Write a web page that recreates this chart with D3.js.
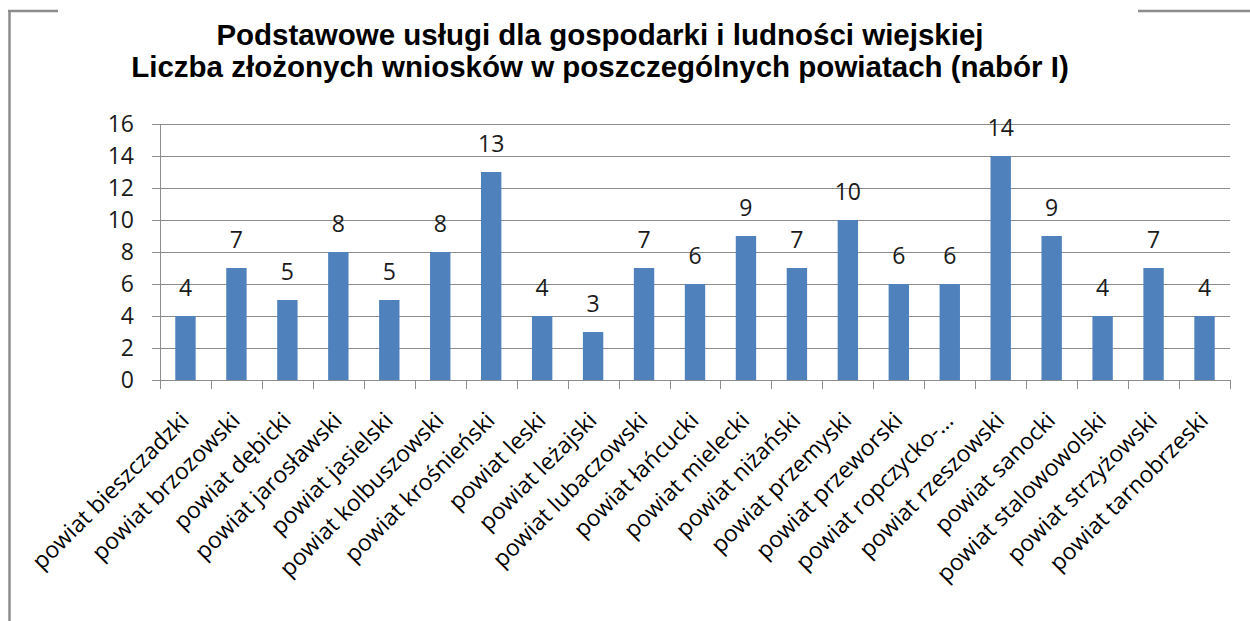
<!DOCTYPE html>
<html>
<head>
<meta charset="utf-8">
<script src="https://cdn.jsdelivr.net/npm/d3@7"></script>
<style>
  body { margin: 0; background: #fff; }
  svg { display: block; }
</style>
</head>
<body>
<svg id="chart"></svg>
<script>
// data
let categories = ["powiat bieszczadzki", "powiat brzozowski", "powiat dębicki", "powiat jarosławski",
    "powiat jasielski", "powiat kolbuszowski", "powiat krośnieński", "powiat leski", "powiat leżajski",
    "powiat lubaczowski", "powiat łańcucki", "powiat mielecki", "powiat niżański", "powiat przemyski",
    "powiat przeworski", "powiat ropczycko-…", "powiat rzeszowski", "powiat sanocki",
    "powiat stalowowolski", "powiat strzyżowski", "powiat tarnobrzeski"]
let values = [4, 7, 5, 8, 5, 8, 13, 4, 3, 7, 6, 9, 7, 10, 6, 6, 14, 9, 4, 7, 4]
let yTicks = [0, 2, 4, 6, 8, 10, 12, 14, 16]
let titleLines = ["Podstawowe usługi dla gospodarki i ludności wiejskiej",
    "Liczba złożonych wniosków w poszczególnych powiatach (nabór I)"]

let width = 1250
let height = 621
let plot = { left: 160, right: 1230, top: 124, bottom: 380 }
let labelFont = "'Open Sans', sans-serif"

let svg = d3.select("#chart")
    .attr("width", width)
    .attr("height", height)

// frame pieces of the chart area
let frameColor = "#8c8c8c"
svg.append("line").attr("x1", 8).attr("x2", 58).attr("y1", 11).attr("y2", 11)
    .attr("stroke", frameColor).attr("stroke-width", 2.5)
svg.append("line").attr("x1", 9.5).attr("x2", 9.5).attr("y1", 10).attr("y2", height)
    .attr("stroke", frameColor).attr("stroke-width", 2.5)
svg.append("line").attr("x1", 1138).attr("x2", width).attr("y1", 11).attr("y2", 11)
    .attr("stroke", frameColor).attr("stroke-width", 2.5)

// title
svg.append("g").selectAll("text")
    .data(titleLines)
    .enter()
    .append("text")
    .attr("x", 600)
    .attr("y", (d, i) => 45 + i * 32)
    .attr("text-anchor", "middle")
    .style("font-family", "'Liberation Sans', Arial, sans-serif")
    .style("font-weight", "bold")
    .style("font-size", "29.5px")
    .style("fill", "#000")
    .text(d => d)

let x = d3.scaleBand()
    .domain(categories)
    .range([plot.left, plot.right])
    .paddingInner(0.6)
    .paddingOuter(0.3)

let xTicks = d3.scalePoint()
    .domain(d3.range(categories.length + 1))
    .range([plot.left, plot.right])

let y = d3.scaleLinear()
    .domain([0, 16])
    .range([plot.bottom, plot.top])

// gridlines
svg.append("g").selectAll("line")
    .data(yTicks)
    .enter()
    .append("line")
    .attr("x1", plot.left - 8)
    .attr("x2", plot.right)
    .attr("y1", d => Math.round(y(d)) + 0.5)
    .attr("y2", d => Math.round(y(d)) + 0.5)
    .attr("stroke", "#8c8c8c")
    .attr("stroke-width", 1)

// y tick labels
svg.append("g").selectAll("text")
    .data(yTicks)
    .enter()
    .append("text")
    .attr("x", 134)
    .attr("y", d => y(d))
    .attr("dy", "0.36em")
    .attr("text-anchor", "end")
    .style("font-family", labelFont)
    .style("font-size", "23px")
    .style("fill", "#1a1a1a")
    .text(d => d)

// y axis line
svg.append("line")
    .attr("x1", plot.left + 0.5).attr("x2", plot.left + 0.5)
    .attr("y1", plot.top).attr("y2", plot.bottom)
    .attr("stroke", "#8c8c8c")

// x tick marks
svg.append("g").selectAll("line")
    .data(xTicks.domain())
    .enter()
    .append("line")
    .attr("x1", d => Math.round(xTicks(d)) + 0.5)
    .attr("x2", d => Math.round(xTicks(d)) + 0.5)
    .attr("y1", plot.bottom)
    .attr("y2", plot.bottom + 9)
    .attr("stroke", "#8c8c8c")

// bars
svg.append("g").selectAll("rect")
    .data(values)
    .enter()
    .append("rect")
    .attr("x", (d, i) => x(categories[i]))
    .attr("width", x.bandwidth())
    .attr("y", d => y(d))
    .attr("height", d => y(0) - y(d))
    .attr("fill", "#4f81bd")

// value labels
svg.append("g").selectAll("text")
    .data(values)
    .enter()
    .append("text")
    .attr("x", (d, i) => x(categories[i]) + x.bandwidth() / 2)
    .attr("y", d => y(d) - 20)
    .attr("text-anchor", "middle")
    .style("font-family", labelFont)
    .style("font-size", "23px")
    .style("fill", "#1a1a1a")
    .text(d => d)

// x axis baseline drawn over bars
svg.append("line")
    .attr("x1", plot.left).attr("x2", plot.right)
    .attr("y1", plot.bottom + 0.5).attr("y2", plot.bottom + 0.5)
    .attr("stroke", "#8c8c8c")

// rotated category labels
svg.append("g").selectAll("text")
    .data(categories)
    .enter()
    .append("text")
    .attr("transform", d => "translate(" + (x(d) + x.bandwidth() / 2 + 5) + "," + 422 + ") rotate(-45)")
    .attr("text-anchor", "end")
    .style("font-family", labelFont)
    .style("font-size", "23px")
    .style("fill", "#000")
    .text(d => d)
</script>
</body>
</html>
